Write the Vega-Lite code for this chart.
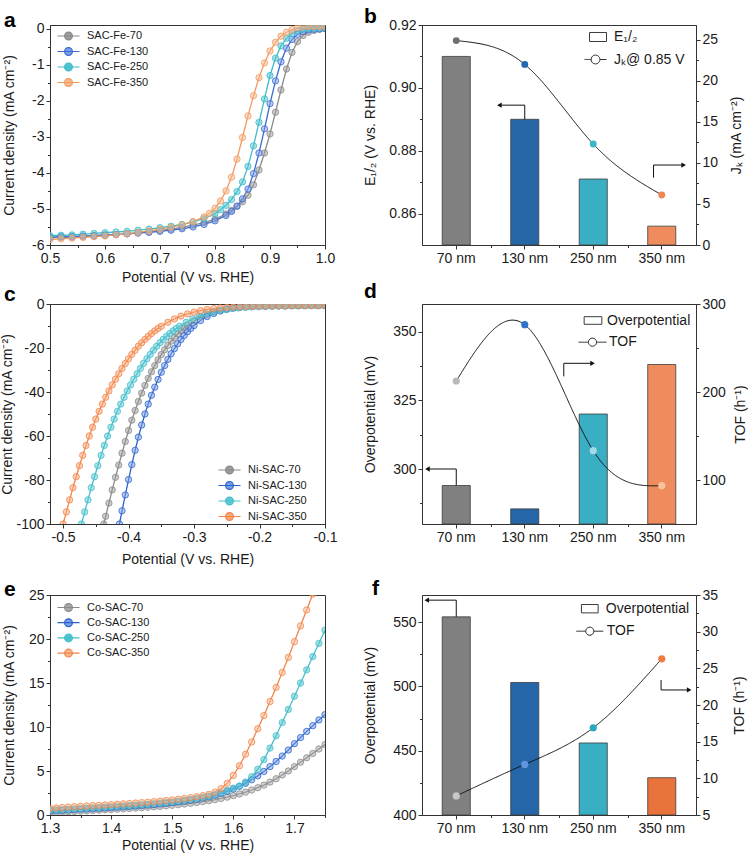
{
"$schema":"https://vega.github.io/schema/vega-lite/v6.json",
"background":"white",
"padding":{"left":0,"top":5,"right":0,"bottom":0},
"config":{"font":"Liberation Sans","view":{"stroke":"#333","strokeWidth":1},
"axis":{"labelFont":"Liberation Sans","titleFont":"Liberation Sans","labelFontSize":14,"titleFontSize":14,"titleFontWeight":"normal","labelColor":"#1a1a1a","titleColor":"#1a1a1a","domainColor":"#333","tickColor":"#333","tickSize":4,"labelPadding":2,"grid":false,"labelFlush":false,"labelOverlap":false},
"legend":{"labelFont":"Liberation Sans","labelColor":"#1a1a1a"},
"title":{"font":"Liberation Sans","color":"#000"}},
"datasets":{
"fe":[
{"s":"SAC-Fe-70","E":0.5,"j":-5.8},{"s":"SAC-Fe-70","E":0.52,"j":-5.79},{"s":"SAC-Fe-70","E":0.54,"j":-5.78},{"s":"SAC-Fe-70","E":0.56,"j":-5.76},{"s":"SAC-Fe-70","E":0.58,"j":-5.75},{"s":"SAC-Fe-70","E":0.6,"j":-5.73},{"s":"SAC-Fe-70","E":0.62,"j":-5.71},{"s":"SAC-Fe-70","E":0.64,"j":-5.69},{"s":"SAC-Fe-70","E":0.66,"j":-5.66},{"s":"SAC-Fe-70","E":0.68,"j":-5.63},{"s":"SAC-Fe-70","E":0.7,"j":-5.6},{"s":"SAC-Fe-70","E":0.72,"j":-5.56},{"s":"SAC-Fe-70","E":0.74,"j":-5.51},{"s":"SAC-Fe-70","E":0.76,"j":-5.45},{"s":"SAC-Fe-70","E":0.78,"j":-5.38},{"s":"SAC-Fe-70","E":0.8,"j":-5.28},{"s":"SAC-Fe-70","E":0.82,"j":-5.14},{"s":"SAC-Fe-70","E":0.83,"j":-5.04},{"s":"SAC-Fe-70","E":0.84,"j":-4.93},{"s":"SAC-Fe-70","E":0.85,"j":-4.8},{"s":"SAC-Fe-70","E":0.86,"j":-4.62},{"s":"SAC-Fe-70","E":0.87,"j":-4.33},{"s":"SAC-Fe-70","E":0.88,"j":-3.92},{"s":"SAC-Fe-70","E":0.89,"j":-3.45},{"s":"SAC-Fe-70","E":0.9,"j":-2.92},{"s":"SAC-Fe-70","E":0.91,"j":-2.32},{"s":"SAC-Fe-70","E":0.92,"j":-1.7},{"s":"SAC-Fe-70","E":0.93,"j":-1.12},{"s":"SAC-Fe-70","E":0.94,"j":-0.66},{"s":"SAC-Fe-70","E":0.95,"j":-0.36},{"s":"SAC-Fe-70","E":0.96,"j":-0.19},{"s":"SAC-Fe-70","E":0.97,"j":-0.1},{"s":"SAC-Fe-70","E":0.98,"j":-0.05},{"s":"SAC-Fe-70","E":0.99,"j":-0.02},{"s":"SAC-Fe-70","E":1.0,"j":0},
{"s":"SAC-Fe-130","E":0.5,"j":-5.78},{"s":"SAC-Fe-130","E":0.52,"j":-5.77},{"s":"SAC-Fe-130","E":0.54,"j":-5.76},{"s":"SAC-Fe-130","E":0.56,"j":-5.75},{"s":"SAC-Fe-130","E":0.58,"j":-5.74},{"s":"SAC-Fe-130","E":0.6,"j":-5.72},{"s":"SAC-Fe-130","E":0.62,"j":-5.71},{"s":"SAC-Fe-130","E":0.64,"j":-5.69},{"s":"SAC-Fe-130","E":0.66,"j":-5.67},{"s":"SAC-Fe-130","E":0.68,"j":-5.65},{"s":"SAC-Fe-130","E":0.7,"j":-5.62},{"s":"SAC-Fe-130","E":0.72,"j":-5.59},{"s":"SAC-Fe-130","E":0.74,"j":-5.55},{"s":"SAC-Fe-130","E":0.76,"j":-5.5},{"s":"SAC-Fe-130","E":0.78,"j":-5.43},{"s":"SAC-Fe-130","E":0.8,"j":-5.33},{"s":"SAC-Fe-130","E":0.82,"j":-5.18},{"s":"SAC-Fe-130","E":0.83,"j":-5.07},{"s":"SAC-Fe-130","E":0.84,"j":-4.92},{"s":"SAC-Fe-130","E":0.85,"j":-4.72},{"s":"SAC-Fe-130","E":0.86,"j":-4.45},{"s":"SAC-Fe-130","E":0.87,"j":-4.02},{"s":"SAC-Fe-130","E":0.88,"j":-3.45},{"s":"SAC-Fe-130","E":0.89,"j":-2.78},{"s":"SAC-Fe-130","E":0.9,"j":-2.08},{"s":"SAC-Fe-130","E":0.91,"j":-1.45},{"s":"SAC-Fe-130","E":0.92,"j":-0.92},{"s":"SAC-Fe-130","E":0.93,"j":-0.54},{"s":"SAC-Fe-130","E":0.94,"j":-0.3},{"s":"SAC-Fe-130","E":0.95,"j":-0.16},{"s":"SAC-Fe-130","E":0.96,"j":-0.08},{"s":"SAC-Fe-130","E":0.97,"j":-0.04},{"s":"SAC-Fe-130","E":0.98,"j":-0.02},{"s":"SAC-Fe-130","E":0.99,"j":-0.01},{"s":"SAC-Fe-130","E":1.0,"j":0},
{"s":"SAC-Fe-250","E":0.5,"j":-5.74},{"s":"SAC-Fe-250","E":0.52,"j":-5.73},{"s":"SAC-Fe-250","E":0.54,"j":-5.72},{"s":"SAC-Fe-250","E":0.56,"j":-5.7},{"s":"SAC-Fe-250","E":0.58,"j":-5.68},{"s":"SAC-Fe-250","E":0.6,"j":-5.66},{"s":"SAC-Fe-250","E":0.62,"j":-5.64},{"s":"SAC-Fe-250","E":0.64,"j":-5.62},{"s":"SAC-Fe-250","E":0.66,"j":-5.59},{"s":"SAC-Fe-250","E":0.68,"j":-5.56},{"s":"SAC-Fe-250","E":0.7,"j":-5.52},{"s":"SAC-Fe-250","E":0.72,"j":-5.48},{"s":"SAC-Fe-250","E":0.74,"j":-5.43},{"s":"SAC-Fe-250","E":0.76,"j":-5.36},{"s":"SAC-Fe-250","E":0.78,"j":-5.27},{"s":"SAC-Fe-250","E":0.8,"j":-5.13},{"s":"SAC-Fe-250","E":0.81,"j":-5.02},{"s":"SAC-Fe-250","E":0.82,"j":-4.9},{"s":"SAC-Fe-250","E":0.83,"j":-4.74},{"s":"SAC-Fe-250","E":0.84,"j":-4.52},{"s":"SAC-Fe-250","E":0.85,"j":-4.25},{"s":"SAC-Fe-250","E":0.86,"j":-3.82},{"s":"SAC-Fe-250","E":0.87,"j":-3.25},{"s":"SAC-Fe-250","E":0.88,"j":-2.6},{"s":"SAC-Fe-250","E":0.89,"j":-1.95},{"s":"SAC-Fe-250","E":0.9,"j":-1.3},{"s":"SAC-Fe-250","E":0.91,"j":-0.82},{"s":"SAC-Fe-250","E":0.92,"j":-0.48},{"s":"SAC-Fe-250","E":0.93,"j":-0.27},{"s":"SAC-Fe-250","E":0.94,"j":-0.14},{"s":"SAC-Fe-250","E":0.95,"j":-0.06},{"s":"SAC-Fe-250","E":0.96,"j":-0.02},{"s":"SAC-Fe-250","E":0.97,"j":0},{"s":"SAC-Fe-250","E":0.98,"j":0.01},{"s":"SAC-Fe-250","E":0.99,"j":0.02},{"s":"SAC-Fe-250","E":1.0,"j":0.02},
{"s":"SAC-Fe-350","E":0.5,"j":-5.85},{"s":"SAC-Fe-350","E":0.52,"j":-5.83},{"s":"SAC-Fe-350","E":0.54,"j":-5.81},{"s":"SAC-Fe-350","E":0.56,"j":-5.79},{"s":"SAC-Fe-350","E":0.58,"j":-5.77},{"s":"SAC-Fe-350","E":0.6,"j":-5.75},{"s":"SAC-Fe-350","E":0.62,"j":-5.72},{"s":"SAC-Fe-350","E":0.64,"j":-5.69},{"s":"SAC-Fe-350","E":0.66,"j":-5.65},{"s":"SAC-Fe-350","E":0.68,"j":-5.61},{"s":"SAC-Fe-350","E":0.7,"j":-5.56},{"s":"SAC-Fe-350","E":0.72,"j":-5.51},{"s":"SAC-Fe-350","E":0.74,"j":-5.44},{"s":"SAC-Fe-350","E":0.76,"j":-5.35},{"s":"SAC-Fe-350","E":0.78,"j":-5.22},{"s":"SAC-Fe-350","E":0.79,"j":-5.12},{"s":"SAC-Fe-350","E":0.8,"j":-4.98},{"s":"SAC-Fe-350","E":0.81,"j":-4.78},{"s":"SAC-Fe-350","E":0.82,"j":-4.5},{"s":"SAC-Fe-350","E":0.83,"j":-4.12},{"s":"SAC-Fe-350","E":0.84,"j":-3.62},{"s":"SAC-Fe-350","E":0.85,"j":-3.02},{"s":"SAC-Fe-350","E":0.86,"j":-2.42},{"s":"SAC-Fe-350","E":0.87,"j":-1.86},{"s":"SAC-Fe-350","E":0.88,"j":-1.36},{"s":"SAC-Fe-350","E":0.89,"j":-0.95},{"s":"SAC-Fe-350","E":0.9,"j":-0.62},{"s":"SAC-Fe-350","E":0.91,"j":-0.38},{"s":"SAC-Fe-350","E":0.92,"j":-0.21},{"s":"SAC-Fe-350","E":0.93,"j":-0.1},{"s":"SAC-Fe-350","E":0.94,"j":-0.03},{"s":"SAC-Fe-350","E":0.95,"j":0.02},{"s":"SAC-Fe-350","E":0.96,"j":0.05},{"s":"SAC-Fe-350","E":0.97,"j":0.06},{"s":"SAC-Fe-350","E":0.98,"j":0.06},{"s":"SAC-Fe-350","E":0.99,"j":0.06},{"s":"SAC-Fe-350","E":1.0,"j":0.06}
],
"ni":[
{"s":"Ni-SAC-70","E":-0.438,"j":-100},{"s":"Ni-SAC-70","E":-0.435,"j":-96.5},{"s":"Ni-SAC-70","E":-0.43,"j":-90.5},{"s":"Ni-SAC-70","E":-0.425,"j":-84.5},{"s":"Ni-SAC-70","E":-0.42,"j":-78.8},{"s":"Ni-SAC-70","E":-0.415,"j":-73.2},{"s":"Ni-SAC-70","E":-0.41,"j":-67.8},{"s":"Ni-SAC-70","E":-0.405,"j":-62.5},{"s":"Ni-SAC-70","E":-0.4,"j":-57.5},{"s":"Ni-SAC-70","E":-0.395,"j":-52.8},{"s":"Ni-SAC-70","E":-0.39,"j":-48.4},{"s":"Ni-SAC-70","E":-0.385,"j":-44.3},{"s":"Ni-SAC-70","E":-0.38,"j":-40.5},{"s":"Ni-SAC-70","E":-0.375,"j":-37},{"s":"Ni-SAC-70","E":-0.37,"j":-33.8},{"s":"Ni-SAC-70","E":-0.365,"j":-30.8},{"s":"Ni-SAC-70","E":-0.36,"j":-28},{"s":"Ni-SAC-70","E":-0.355,"j":-25.4},{"s":"Ni-SAC-70","E":-0.35,"j":-23},{"s":"Ni-SAC-70","E":-0.345,"j":-20.8},{"s":"Ni-SAC-70","E":-0.34,"j":-18.8},{"s":"Ni-SAC-70","E":-0.335,"j":-16.9},{"s":"Ni-SAC-70","E":-0.33,"j":-15.2},{"s":"Ni-SAC-70","E":-0.325,"j":-13.6},{"s":"Ni-SAC-70","E":-0.32,"j":-12.2},{"s":"Ni-SAC-70","E":-0.315,"j":-10.9},{"s":"Ni-SAC-70","E":-0.31,"j":-9.7},{"s":"Ni-SAC-70","E":-0.3,"j":-7.7},{"s":"Ni-SAC-70","E":-0.29,"j":-6},{"s":"Ni-SAC-70","E":-0.28,"j":-4.7},{"s":"Ni-SAC-70","E":-0.27,"j":-3.6},{"s":"Ni-SAC-70","E":-0.26,"j":-2.8},{"s":"Ni-SAC-70","E":-0.25,"j":-2.2},{"s":"Ni-SAC-70","E":-0.24,"j":-1.75},{"s":"Ni-SAC-70","E":-0.23,"j":-1.45},{"s":"Ni-SAC-70","E":-0.22,"j":-1.2},{"s":"Ni-SAC-70","E":-0.21,"j":-1.05},{"s":"Ni-SAC-70","E":-0.2,"j":-0.95},{"s":"Ni-SAC-70","E":-0.19,"j":-0.9},{"s":"Ni-SAC-70","E":-0.18,"j":-0.85},{"s":"Ni-SAC-70","E":-0.17,"j":-0.8},{"s":"Ni-SAC-70","E":-0.16,"j":-0.8},{"s":"Ni-SAC-70","E":-0.15,"j":-0.75},{"s":"Ni-SAC-70","E":-0.14,"j":-0.75},{"s":"Ni-SAC-70","E":-0.13,"j":-0.7},{"s":"Ni-SAC-70","E":-0.12,"j":-0.7},{"s":"Ni-SAC-70","E":-0.11,"j":-0.7},{"s":"Ni-SAC-70","E":-0.1,"j":-0.7},
{"s":"Ni-SAC-130","E":-0.414,"j":-100},{"s":"Ni-SAC-130","E":-0.41,"j":-94},{"s":"Ni-SAC-130","E":-0.405,"j":-86.8},{"s":"Ni-SAC-130","E":-0.4,"j":-79.8},{"s":"Ni-SAC-130","E":-0.395,"j":-73},{"s":"Ni-SAC-130","E":-0.39,"j":-66.5},{"s":"Ni-SAC-130","E":-0.385,"j":-60.5},{"s":"Ni-SAC-130","E":-0.38,"j":-55},{"s":"Ni-SAC-130","E":-0.375,"j":-50},{"s":"Ni-SAC-130","E":-0.37,"j":-45.5},{"s":"Ni-SAC-130","E":-0.365,"j":-41.5},{"s":"Ni-SAC-130","E":-0.36,"j":-37.8},{"s":"Ni-SAC-130","E":-0.355,"j":-34.3},{"s":"Ni-SAC-130","E":-0.35,"j":-31},{"s":"Ni-SAC-130","E":-0.345,"j":-28},{"s":"Ni-SAC-130","E":-0.34,"j":-25.2},{"s":"Ni-SAC-130","E":-0.335,"j":-22.6},{"s":"Ni-SAC-130","E":-0.33,"j":-20.3},{"s":"Ni-SAC-130","E":-0.325,"j":-18.1},{"s":"Ni-SAC-130","E":-0.32,"j":-16.1},{"s":"Ni-SAC-130","E":-0.315,"j":-14.3},{"s":"Ni-SAC-130","E":-0.31,"j":-12.6},{"s":"Ni-SAC-130","E":-0.305,"j":-11.1},{"s":"Ni-SAC-130","E":-0.3,"j":-9.8},{"s":"Ni-SAC-130","E":-0.29,"j":-7.5},{"s":"Ni-SAC-130","E":-0.28,"j":-5.7},{"s":"Ni-SAC-130","E":-0.27,"j":-4.3},{"s":"Ni-SAC-130","E":-0.26,"j":-3.2},{"s":"Ni-SAC-130","E":-0.25,"j":-2.4},{"s":"Ni-SAC-130","E":-0.24,"j":-1.85},{"s":"Ni-SAC-130","E":-0.23,"j":-1.5},{"s":"Ni-SAC-130","E":-0.22,"j":-1.25},{"s":"Ni-SAC-130","E":-0.21,"j":-1.1},{"s":"Ni-SAC-130","E":-0.2,"j":-1},{"s":"Ni-SAC-130","E":-0.19,"j":-0.9},{"s":"Ni-SAC-130","E":-0.18,"j":-0.85},{"s":"Ni-SAC-130","E":-0.17,"j":-0.8},{"s":"Ni-SAC-130","E":-0.16,"j":-0.8},{"s":"Ni-SAC-130","E":-0.15,"j":-0.75},{"s":"Ni-SAC-130","E":-0.14,"j":-0.75},{"s":"Ni-SAC-130","E":-0.13,"j":-0.7},{"s":"Ni-SAC-130","E":-0.12,"j":-0.7},{"s":"Ni-SAC-130","E":-0.11,"j":-0.7},{"s":"Ni-SAC-130","E":-0.1,"j":-0.7},
{"s":"Ni-SAC-250","E":-0.472,"j":-100},{"s":"Ni-SAC-250","E":-0.467,"j":-94.5},{"s":"Ni-SAC-250","E":-0.462,"j":-89},{"s":"Ni-SAC-250","E":-0.457,"j":-83.5},{"s":"Ni-SAC-250","E":-0.452,"j":-78.5},{"s":"Ni-SAC-250","E":-0.447,"j":-73.5},{"s":"Ni-SAC-250","E":-0.442,"j":-68.8},{"s":"Ni-SAC-250","E":-0.437,"j":-64.3},{"s":"Ni-SAC-250","E":-0.432,"j":-60},{"s":"Ni-SAC-250","E":-0.427,"j":-56},{"s":"Ni-SAC-250","E":-0.422,"j":-52.3},{"s":"Ni-SAC-250","E":-0.417,"j":-48.8},{"s":"Ni-SAC-250","E":-0.412,"j":-45.5},{"s":"Ni-SAC-250","E":-0.407,"j":-42.4},{"s":"Ni-SAC-250","E":-0.402,"j":-39.5},{"s":"Ni-SAC-250","E":-0.397,"j":-36.8},{"s":"Ni-SAC-250","E":-0.392,"j":-34.2},{"s":"Ni-SAC-250","E":-0.387,"j":-31.7},{"s":"Ni-SAC-250","E":-0.382,"j":-29.3},{"s":"Ni-SAC-250","E":-0.377,"j":-27},{"s":"Ni-SAC-250","E":-0.372,"j":-24.9},{"s":"Ni-SAC-250","E":-0.367,"j":-22.9},{"s":"Ni-SAC-250","E":-0.362,"j":-21},{"s":"Ni-SAC-250","E":-0.357,"j":-19.2},{"s":"Ni-SAC-250","E":-0.352,"j":-17.6},{"s":"Ni-SAC-250","E":-0.347,"j":-16.1},{"s":"Ni-SAC-250","E":-0.342,"j":-14.7},{"s":"Ni-SAC-250","E":-0.337,"j":-13.4},{"s":"Ni-SAC-250","E":-0.332,"j":-12.2},{"s":"Ni-SAC-250","E":-0.327,"j":-11.1},{"s":"Ni-SAC-250","E":-0.322,"j":-10.1},{"s":"Ni-SAC-250","E":-0.312,"j":-8.3},{"s":"Ni-SAC-250","E":-0.302,"j":-6.8},{"s":"Ni-SAC-250","E":-0.292,"j":-5.5},{"s":"Ni-SAC-250","E":-0.282,"j":-4.5},{"s":"Ni-SAC-250","E":-0.272,"j":-3.7},{"s":"Ni-SAC-250","E":-0.262,"j":-3},{"s":"Ni-SAC-250","E":-0.252,"j":-2.5},{"s":"Ni-SAC-250","E":-0.242,"j":-2.1},{"s":"Ni-SAC-250","E":-0.232,"j":-1.8},{"s":"Ni-SAC-250","E":-0.222,"j":-1.55},{"s":"Ni-SAC-250","E":-0.212,"j":-1.35},{"s":"Ni-SAC-250","E":-0.202,"j":-1.2},{"s":"Ni-SAC-250","E":-0.192,"j":-1.1},{"s":"Ni-SAC-250","E":-0.182,"j":-1},{"s":"Ni-SAC-250","E":-0.172,"j":-0.95},{"s":"Ni-SAC-250","E":-0.162,"j":-0.9},{"s":"Ni-SAC-250","E":-0.152,"j":-0.85},{"s":"Ni-SAC-250","E":-0.142,"j":-0.8},{"s":"Ni-SAC-250","E":-0.132,"j":-0.8},{"s":"Ni-SAC-250","E":-0.122,"j":-0.75},{"s":"Ni-SAC-250","E":-0.112,"j":-0.75},{"s":"Ni-SAC-250","E":-0.102,"j":-0.7},
{"s":"Ni-SAC-350","E":-0.5,"j":-100},{"s":"Ni-SAC-350","E":-0.495,"j":-94.5},{"s":"Ni-SAC-350","E":-0.49,"j":-89},{"s":"Ni-SAC-350","E":-0.485,"j":-83.5},{"s":"Ni-SAC-350","E":-0.48,"j":-78.5},{"s":"Ni-SAC-350","E":-0.475,"j":-73.5},{"s":"Ni-SAC-350","E":-0.47,"j":-68.8},{"s":"Ni-SAC-350","E":-0.465,"j":-64.3},{"s":"Ni-SAC-350","E":-0.46,"j":-60},{"s":"Ni-SAC-350","E":-0.455,"j":-56},{"s":"Ni-SAC-350","E":-0.45,"j":-52.3},{"s":"Ni-SAC-350","E":-0.445,"j":-48.8},{"s":"Ni-SAC-350","E":-0.44,"j":-45.5},{"s":"Ni-SAC-350","E":-0.435,"j":-42.4},{"s":"Ni-SAC-350","E":-0.43,"j":-39.5},{"s":"Ni-SAC-350","E":-0.425,"j":-36.8},{"s":"Ni-SAC-350","E":-0.42,"j":-34.2},{"s":"Ni-SAC-350","E":-0.415,"j":-31.7},{"s":"Ni-SAC-350","E":-0.41,"j":-29.3},{"s":"Ni-SAC-350","E":-0.405,"j":-27},{"s":"Ni-SAC-350","E":-0.4,"j":-24.9},{"s":"Ni-SAC-350","E":-0.395,"j":-22.9},{"s":"Ni-SAC-350","E":-0.39,"j":-21},{"s":"Ni-SAC-350","E":-0.385,"j":-19.2},{"s":"Ni-SAC-350","E":-0.38,"j":-17.6},{"s":"Ni-SAC-350","E":-0.375,"j":-16.1},{"s":"Ni-SAC-350","E":-0.37,"j":-14.7},{"s":"Ni-SAC-350","E":-0.365,"j":-13.4},{"s":"Ni-SAC-350","E":-0.36,"j":-12.2},{"s":"Ni-SAC-350","E":-0.355,"j":-11.1},{"s":"Ni-SAC-350","E":-0.35,"j":-10.1},{"s":"Ni-SAC-350","E":-0.34,"j":-8.3},{"s":"Ni-SAC-350","E":-0.33,"j":-6.8},{"s":"Ni-SAC-350","E":-0.32,"j":-5.5},{"s":"Ni-SAC-350","E":-0.31,"j":-4.5},{"s":"Ni-SAC-350","E":-0.3,"j":-3.7},{"s":"Ni-SAC-350","E":-0.29,"j":-3},{"s":"Ni-SAC-350","E":-0.28,"j":-2.5},{"s":"Ni-SAC-350","E":-0.27,"j":-2.1},{"s":"Ni-SAC-350","E":-0.26,"j":-1.8},{"s":"Ni-SAC-350","E":-0.25,"j":-1.55},{"s":"Ni-SAC-350","E":-0.24,"j":-1.35},{"s":"Ni-SAC-350","E":-0.23,"j":-1.2},{"s":"Ni-SAC-350","E":-0.22,"j":-1.1},{"s":"Ni-SAC-350","E":-0.21,"j":-1},{"s":"Ni-SAC-350","E":-0.2,"j":-0.95},{"s":"Ni-SAC-350","E":-0.19,"j":-0.9},{"s":"Ni-SAC-350","E":-0.18,"j":-0.85},{"s":"Ni-SAC-350","E":-0.17,"j":-0.8},{"s":"Ni-SAC-350","E":-0.16,"j":-0.8},{"s":"Ni-SAC-350","E":-0.15,"j":-0.75},{"s":"Ni-SAC-350","E":-0.14,"j":-0.75},{"s":"Ni-SAC-350","E":-0.13,"j":-0.7},{"s":"Ni-SAC-350","E":-0.12,"j":-0.7},{"s":"Ni-SAC-350","E":-0.11,"j":-0.7},{"s":"Ni-SAC-350","E":-0.1,"j":-0.7}
],
"co":[
{"s":"Co-SAC-70","E":1.3,"j":0.25},{"s":"Co-SAC-70","E":1.31,"j":0.29},{"s":"Co-SAC-70","E":1.32,"j":0.33},{"s":"Co-SAC-70","E":1.33,"j":0.36},{"s":"Co-SAC-70","E":1.34,"j":0.4},{"s":"Co-SAC-70","E":1.35,"j":0.44},{"s":"Co-SAC-70","E":1.36,"j":0.47},{"s":"Co-SAC-70","E":1.37,"j":0.51},{"s":"Co-SAC-70","E":1.38,"j":0.55},{"s":"Co-SAC-70","E":1.39,"j":0.59},{"s":"Co-SAC-70","E":1.4,"j":0.62},{"s":"Co-SAC-70","E":1.41,"j":0.66},{"s":"Co-SAC-70","E":1.42,"j":0.7},{"s":"Co-SAC-70","E":1.43,"j":0.74},{"s":"Co-SAC-70","E":1.44,"j":0.79},{"s":"Co-SAC-70","E":1.45,"j":0.83},{"s":"Co-SAC-70","E":1.46,"j":0.88},{"s":"Co-SAC-70","E":1.47,"j":0.93},{"s":"Co-SAC-70","E":1.48,"j":0.98},{"s":"Co-SAC-70","E":1.49,"j":1.04},{"s":"Co-SAC-70","E":1.5,"j":1.1},{"s":"Co-SAC-70","E":1.51,"j":1.17},{"s":"Co-SAC-70","E":1.52,"j":1.25},{"s":"Co-SAC-70","E":1.53,"j":1.33},{"s":"Co-SAC-70","E":1.54,"j":1.42},{"s":"Co-SAC-70","E":1.55,"j":1.52},{"s":"Co-SAC-70","E":1.56,"j":1.62},{"s":"Co-SAC-70","E":1.57,"j":1.74},{"s":"Co-SAC-70","E":1.58,"j":1.88},{"s":"Co-SAC-70","E":1.59,"j":2.03},{"s":"Co-SAC-70","E":1.6,"j":2.2},{"s":"Co-SAC-70","E":1.61,"j":2.39},{"s":"Co-SAC-70","E":1.62,"j":2.6},{"s":"Co-SAC-70","E":1.63,"j":2.84},{"s":"Co-SAC-70","E":1.64,"j":3.1},{"s":"Co-SAC-70","E":1.65,"j":3.4},{"s":"Co-SAC-70","E":1.66,"j":3.74},{"s":"Co-SAC-70","E":1.67,"j":4.12},{"s":"Co-SAC-70","E":1.68,"j":4.55},{"s":"Co-SAC-70","E":1.69,"j":5},{"s":"Co-SAC-70","E":1.7,"j":5.5},{"s":"Co-SAC-70","E":1.71,"j":6},{"s":"Co-SAC-70","E":1.72,"j":6.5},{"s":"Co-SAC-70","E":1.73,"j":7},{"s":"Co-SAC-70","E":1.74,"j":7.5},{"s":"Co-SAC-70","E":1.75,"j":8},
{"s":"Co-SAC-130","E":1.3,"j":0.45},{"s":"Co-SAC-130","E":1.31,"j":0.49},{"s":"Co-SAC-130","E":1.32,"j":0.52},{"s":"Co-SAC-130","E":1.33,"j":0.56},{"s":"Co-SAC-130","E":1.34,"j":0.6},{"s":"Co-SAC-130","E":1.35,"j":0.64},{"s":"Co-SAC-130","E":1.36,"j":0.67},{"s":"Co-SAC-130","E":1.37,"j":0.71},{"s":"Co-SAC-130","E":1.38,"j":0.75},{"s":"Co-SAC-130","E":1.39,"j":0.79},{"s":"Co-SAC-130","E":1.4,"j":0.83},{"s":"Co-SAC-130","E":1.41,"j":0.88},{"s":"Co-SAC-130","E":1.42,"j":0.92},{"s":"Co-SAC-130","E":1.43,"j":0.97},{"s":"Co-SAC-130","E":1.44,"j":1.02},{"s":"Co-SAC-130","E":1.45,"j":1.07},{"s":"Co-SAC-130","E":1.46,"j":1.12},{"s":"Co-SAC-130","E":1.47,"j":1.18},{"s":"Co-SAC-130","E":1.48,"j":1.25},{"s":"Co-SAC-130","E":1.49,"j":1.32},{"s":"Co-SAC-130","E":1.5,"j":1.4},{"s":"Co-SAC-130","E":1.51,"j":1.48},{"s":"Co-SAC-130","E":1.52,"j":1.58},{"s":"Co-SAC-130","E":1.53,"j":1.68},{"s":"Co-SAC-130","E":1.54,"j":1.8},{"s":"Co-SAC-130","E":1.55,"j":1.93},{"s":"Co-SAC-130","E":1.56,"j":2.08},{"s":"Co-SAC-130","E":1.57,"j":2.25},{"s":"Co-SAC-130","E":1.58,"j":2.45},{"s":"Co-SAC-130","E":1.59,"j":2.68},{"s":"Co-SAC-130","E":1.6,"j":2.95},{"s":"Co-SAC-130","E":1.61,"j":3.25},{"s":"Co-SAC-130","E":1.62,"j":3.6},{"s":"Co-SAC-130","E":1.63,"j":4},{"s":"Co-SAC-130","E":1.64,"j":4.45},{"s":"Co-SAC-130","E":1.65,"j":4.95},{"s":"Co-SAC-130","E":1.66,"j":5.5},{"s":"Co-SAC-130","E":1.67,"j":6.08},{"s":"Co-SAC-130","E":1.68,"j":6.7},{"s":"Co-SAC-130","E":1.69,"j":7.38},{"s":"Co-SAC-130","E":1.7,"j":8.1},{"s":"Co-SAC-130","E":1.71,"j":8.8},{"s":"Co-SAC-130","E":1.72,"j":9.5},{"s":"Co-SAC-130","E":1.73,"j":10.15},{"s":"Co-SAC-130","E":1.74,"j":10.8},{"s":"Co-SAC-130","E":1.75,"j":11.4},
{"s":"Co-SAC-250","E":1.3,"j":0.55},{"s":"Co-SAC-250","E":1.31,"j":0.59},{"s":"Co-SAC-250","E":1.32,"j":0.62},{"s":"Co-SAC-250","E":1.33,"j":0.66},{"s":"Co-SAC-250","E":1.34,"j":0.7},{"s":"Co-SAC-250","E":1.35,"j":0.74},{"s":"Co-SAC-250","E":1.36,"j":0.78},{"s":"Co-SAC-250","E":1.37,"j":0.82},{"s":"Co-SAC-250","E":1.38,"j":0.86},{"s":"Co-SAC-250","E":1.39,"j":0.9},{"s":"Co-SAC-250","E":1.4,"j":0.94},{"s":"Co-SAC-250","E":1.41,"j":0.99},{"s":"Co-SAC-250","E":1.42,"j":1.03},{"s":"Co-SAC-250","E":1.43,"j":1.08},{"s":"Co-SAC-250","E":1.44,"j":1.13},{"s":"Co-SAC-250","E":1.45,"j":1.18},{"s":"Co-SAC-250","E":1.46,"j":1.23},{"s":"Co-SAC-250","E":1.47,"j":1.29},{"s":"Co-SAC-250","E":1.48,"j":1.36},{"s":"Co-SAC-250","E":1.49,"j":1.43},{"s":"Co-SAC-250","E":1.5,"j":1.5},{"s":"Co-SAC-250","E":1.51,"j":1.58},{"s":"Co-SAC-250","E":1.52,"j":1.67},{"s":"Co-SAC-250","E":1.53,"j":1.77},{"s":"Co-SAC-250","E":1.54,"j":1.88},{"s":"Co-SAC-250","E":1.55,"j":2.01},{"s":"Co-SAC-250","E":1.56,"j":2.16},{"s":"Co-SAC-250","E":1.57,"j":2.34},{"s":"Co-SAC-250","E":1.58,"j":2.55},{"s":"Co-SAC-250","E":1.59,"j":2.8},{"s":"Co-SAC-250","E":1.6,"j":3.05},{"s":"Co-SAC-250","E":1.61,"j":3.3},{"s":"Co-SAC-250","E":1.62,"j":3.75},{"s":"Co-SAC-250","E":1.63,"j":4.35},{"s":"Co-SAC-250","E":1.64,"j":5.2},{"s":"Co-SAC-250","E":1.65,"j":6.3},{"s":"Co-SAC-250","E":1.66,"j":7.6},{"s":"Co-SAC-250","E":1.67,"j":9},{"s":"Co-SAC-250","E":1.68,"j":10.5},{"s":"Co-SAC-250","E":1.69,"j":12},{"s":"Co-SAC-250","E":1.7,"j":13.5},{"s":"Co-SAC-250","E":1.71,"j":15},{"s":"Co-SAC-250","E":1.72,"j":16.5},{"s":"Co-SAC-250","E":1.73,"j":18},{"s":"Co-SAC-250","E":1.74,"j":19.5},{"s":"Co-SAC-250","E":1.75,"j":21},
{"s":"Co-SAC-350","E":1.3,"j":0.75},{"s":"Co-SAC-350","E":1.31,"j":0.8},{"s":"Co-SAC-350","E":1.32,"j":0.85},{"s":"Co-SAC-350","E":1.33,"j":0.9},{"s":"Co-SAC-350","E":1.34,"j":0.95},{"s":"Co-SAC-350","E":1.35,"j":0.99},{"s":"Co-SAC-350","E":1.36,"j":1.03},{"s":"Co-SAC-350","E":1.37,"j":1.07},{"s":"Co-SAC-350","E":1.38,"j":1.1},{"s":"Co-SAC-350","E":1.39,"j":1.14},{"s":"Co-SAC-350","E":1.4,"j":1.18},{"s":"Co-SAC-350","E":1.41,"j":1.22},{"s":"Co-SAC-350","E":1.42,"j":1.27},{"s":"Co-SAC-350","E":1.43,"j":1.31},{"s":"Co-SAC-350","E":1.44,"j":1.36},{"s":"Co-SAC-350","E":1.45,"j":1.41},{"s":"Co-SAC-350","E":1.46,"j":1.46},{"s":"Co-SAC-350","E":1.47,"j":1.52},{"s":"Co-SAC-350","E":1.48,"j":1.58},{"s":"Co-SAC-350","E":1.49,"j":1.65},{"s":"Co-SAC-350","E":1.5,"j":1.72},{"s":"Co-SAC-350","E":1.51,"j":1.8},{"s":"Co-SAC-350","E":1.52,"j":1.88},{"s":"Co-SAC-350","E":1.53,"j":1.97},{"s":"Co-SAC-350","E":1.54,"j":2.08},{"s":"Co-SAC-350","E":1.55,"j":2.2},{"s":"Co-SAC-350","E":1.56,"j":2.35},{"s":"Co-SAC-350","E":1.57,"j":2.6},{"s":"Co-SAC-350","E":1.58,"j":3},{"s":"Co-SAC-350","E":1.59,"j":3.6},{"s":"Co-SAC-350","E":1.6,"j":4.5},{"s":"Co-SAC-350","E":1.61,"j":5.6},{"s":"Co-SAC-350","E":1.62,"j":6.9},{"s":"Co-SAC-350","E":1.63,"j":8.3},{"s":"Co-SAC-350","E":1.64,"j":9.8},{"s":"Co-SAC-350","E":1.65,"j":11.3},{"s":"Co-SAC-350","E":1.66,"j":12.9},{"s":"Co-SAC-350","E":1.67,"j":14.5},{"s":"Co-SAC-350","E":1.68,"j":16.2},{"s":"Co-SAC-350","E":1.69,"j":17.9},{"s":"Co-SAC-350","E":1.7,"j":19.7},{"s":"Co-SAC-350","E":1.71,"j":21.5},{"s":"Co-SAC-350","E":1.72,"j":23.3},{"s":"Co-SAC-350","E":1.73,"j":25.1}
],
"bars":[
{"p":"b","size":"70 nm","v":0.910,"r":24.9},{"p":"b","size":"130 nm","v":0.890,"r":22.0},{"p":"b","size":"250 nm","v":0.871,"r":12.3},{"p":"b","size":"350 nm","v":0.856,"r":6.1},
{"p":"d","size":"70 nm","v":294,"r":212.5},{"p":"d","size":"130 nm","v":285.5,"r":276.5},{"p":"d","size":"250 nm","v":320,"r":133.3},{"p":"d","size":"350 nm","v":338,"r":93.5},
{"p":"f","size":"70 nm","v":554,"r":7.6},{"p":"f","size":"130 nm","v":503,"r":11.9},{"p":"f","size":"250 nm","v":456,"r":16.9},{"p":"f","size":"350 nm","v":429,"r":26.3}
],
"arr":[
{"p":"b","side":"L","x":1.5,"y":0.890,"x2":1.5,"y2":0.8945},{"p":"b","side":"L","x":1.5,"y":0.8945,"x2":1.15,"y2":0.8945},
{"p":"b","side":"R","x":3.38,"y":8.2,"x2":3.38,"y2":9.74},{"p":"b","side":"R","x":3.38,"y":9.74,"x2":3.8,"y2":9.74},
{"p":"d","side":"L","x":0.5,"y":294,"x2":0.5,"y2":300},{"p":"d","side":"L","x":0.5,"y":300,"x2":0.1,"y2":300},
{"p":"d","side":"R","x":2.07,"y":217.8,"x2":2.07,"y2":232.6},{"p":"d","side":"R","x":2.07,"y":232.6,"x2":2.47,"y2":232.6},
{"p":"f","side":"L","x":0.5,"y":554,"x2":0.5,"y2":567},{"p":"f","side":"L","x":0.5,"y":567,"x2":0.09,"y2":567},
{"p":"f","side":"R","x":3.49,"y":23.4,"x2":3.49,"y2":22.05},{"p":"f","side":"R","x":3.49,"y":22.05,"x2":3.88,"y2":22.05}
],
"heads":[
{"p":"b","side":"L","x":1.13,"y":0.8945},{"p":"b","side":"R","x":3.82,"y":9.74},
{"p":"d","side":"L","x":0.08,"y":300},{"p":"d","side":"R","x":2.49,"y":232.6},
{"p":"f","side":"L","x":0.07,"y":567},{"p":"f","side":"R","x":3.9,"y":22.05}
]
},
"spacing":-5,
"resolve":{"scale":{"fill":"independent","stroke":"independent","strokeDash":"independent"}},
"vconcat":[
{"hconcat":[
{"width":275,"height":220,
"title":{"text":"a","anchor":"start","frame":"group","fontSize":21,"fontWeight":"bold","baseline":"alphabetic","offset":0,"dx":-46,"dy":26},
"data":{"name":"fe"},
"layer":[
{"mark":{"type":"line","strokeWidth":1.3,"clip":true},
"encoding":{
"x":{"field":"E","type":"quantitative","scale":{"domain":[0.5,1.0],"nice":false,"zero":false},"axis":{"title":"Potential (V vs. RHE)","values":[0.5,0.6,0.7,0.8,0.9,1.0],"format":".1f","titlePadding":5}},
"y":{"field":"j","type":"quantitative","scale":{"domain":[-6,0.1],"nice":false,"zero":false},"axis":{"title":"Current density (mA cm⁻²)","values":[0,-1,-2,-3,-4,-5,-6],"tickCount":7,"labelOverlap":false,"format":"d","labelExpr":"replace(datum.label,'−','-')","titlePadding":15}},
"stroke":{"field":"s","type":"nominal","scale":{"domain":["SAC-Fe-70","SAC-Fe-130","SAC-Fe-250","SAC-Fe-350"],"range":["#8a8a8a","#3a6ad4","#3fbccb","#f39a5e"]},"legend":{"title":null,"orient":"none","legendX":11,"legendY":3.5,"symbolType":"M-1.7,0H1.7M0.6,0A0.6,0.6,0,1,1,-0.6,0A0.6,0.6,0,1,1,0.6,0","symbolSize":169,"symbolStrokeWidth":1.2,"labelFontSize":11,"labelOffset":11,"rowPadding":1.5,"padding":0}}}},
{"mark":{"type":"point","filled":true,"size":40,"fillOpacity":0.5,"strokeWidth":0.8,"opacity":1,"clip":true},
"encoding":{
"x":{"field":"E","type":"quantitative","axis":null},
"y":{"field":"j","type":"quantitative","axis":null},
"fill":{"field":"s","type":"nominal","scale":{"domain":["SAC-Fe-70","SAC-Fe-130","SAC-Fe-250","SAC-Fe-350"],"range":["#9c9c9c","#7b9ee8","#4fc3d0","#f7b88f"]},"legend":{"title":null,"orient":"none","legendX":11,"legendY":3.5,"symbolType":"M-1.7,0H1.7M0.6,0A0.6,0.6,0,1,1,-0.6,0A0.6,0.6,0,1,1,0.6,0","symbolSize":169,"symbolStrokeWidth":1.2,"labelFontSize":11,"labelOffset":11,"rowPadding":1.5,"padding":0}},
"stroke":{"field":"s","type":"nominal","legend":{"title":null,"orient":"none","legendX":11,"legendY":3.5,"symbolType":"M-1.7,0H1.7M0.6,0A0.6,0.6,0,1,1,-0.6,0A0.6,0.6,0,1,1,0.6,0","symbolSize":169,"symbolStrokeWidth":1.2,"labelFontSize":11,"labelOffset":11,"rowPadding":1.5,"padding":0}}}},
{"mark":{"type":"point","opacity":0},
"encoding":{
"x":{"field":"E","type":"quantitative","axis":{"orient":"bottom","values":[0.55,0.65,0.75,0.85,0.95],"labels":false,"tickSize":2.5,"domain":false,"title":null}},
"y":{"field":"j","type":"quantitative","axis":{"orient":"left","values":[-0.5,-1.5,-2.5,-3.5,-4.5,-5.5],"labels":false,"tickSize":2.5,"domain":false,"title":null}}}}
],
"resolve":{"axis":{"x":"independent","y":"independent"}}},
{"width":274,"height":220,
"title":{"text":"b","anchor":"start","frame":"group","fontSize":21,"fontWeight":"bold","baseline":"alphabetic","offset":0,"dx":-58,"dy":26},
"layer":[
{"data":{"name":"bars"},"transform":[{"filter":"datum.p==='b'"}],"mark":{"type":"bar","strokeWidth":0.8},
"encoding":{
"x":{"field":"size","type":"nominal","scale":{"type":"band","domain":["70 nm","130 nm","250 nm","350 nm"],"paddingInner":0.59,"paddingOuter":0.295},"axis":{"title":null,"labelAngle":0}},
"y":{"field":"v","type":"quantitative","scale":{"domain":[0.85,0.92],"nice":false,"zero":false},"axis":{"title":"E₁/₂ (V vs. RHE)","values":[0.86,0.88,0.9,0.92],"format":".2f","titlePadding":11}},
"y2":{"datum":0.85},
"fill":{"field":"size","type":"nominal","scale":{"domain":["70 nm","130 nm","250 nm","350 nm"],"range":["#808080","#2767a6","#3aafc4","#ee8c5d"]},"legend":null},
"stroke":{"datum":"E₁/₂","type":"nominal","scale":{"range":["#3c3c3c"]},"legend":{"title":null,"orient":"none","legendX":167,"legendY":3,"symbolType":"M-1,-0.53H1V0.53H-1Z","symbolSize":289,"labelFontSize":14,"labelOffset":7,"padding":0,"symbolStrokeWidth":1,"symbolFillColor":"white","symbolStrokeColor":"#333"}}}},
{"data":{"name":"bars"},"transform":[{"filter":"datum.p==='b'"}],"mark":{"type":"line","interpolate":"natural","color":"#111","strokeWidth":1},
"encoding":{
"x":{"field":"size","type":"nominal","scale":{"type":"band","domain":["70 nm","130 nm","250 nm","350 nm"],"paddingInner":0.59,"paddingOuter":0.295},"axis":null},
"y":{"field":"r","type":"quantitative","scale":{"domain":[0,26.8],"nice":false,"zero":false},"axis":{"orient":"right","title":"Jₖ (mA cm⁻²)","values":[0,5,10,15,20,25],"titlePadding":12,"titleAngle":270,"titleBaseline":"top"}},
"strokeDash":{"datum":"Jₖ@ 0.85 V","type":"nominal","scale":{"range":[[1,0]]},"legend":{"title":null,"orient":"none","legendX":162,"legendY":23,"symbolType":"M-1,0H-0.4M0.4,0H1M0.4,0A0.4,0.4,0,1,1,-0.4,0A0.4,0.4,0,1,1,0.4,0","symbolSize":484,"labelFontSize":14,"labelOffset":7,"padding":0,"symbolStrokeWidth":1,"symbolFillColor":"white","symbolStrokeColor":"#222","encode":{"symbols":{"update":{"fill":{"value":"white"},"stroke":{"value":"#222"}}}}}}}},
{"data":{"name":"bars"},"transform":[{"filter":"datum.p==='b'"}],"mark":{"type":"circle","size":48,"opacity":1},
"encoding":{
"x":{"field":"size","type":"nominal","scale":{"type":"band","domain":["70 nm","130 nm","250 nm","350 nm"],"paddingInner":0.59,"paddingOuter":0.295},"axis":null},
"y":{"field":"r","type":"quantitative","scale":{"domain":[0,26.8],"nice":false,"zero":false},"axis":null},
"fill":{"field":"size","type":"nominal","scale":{"domain":["70 nm","130 nm","250 nm","350 nm"],"range":["#6f6f6f","#2566b0","#3fb5c8","#f08552"]},"legend":null}}},
{"data":{"name":"arr"},"transform":[{"filter":"datum.p==='b' && datum.side==='L'"}],"mark":{"type":"rule","color":"#111","strokeWidth":1},
"encoding":{"x":{"field":"x","type":"quantitative","scale":{"domain":[0,4],"nice":false,"zero":false},"axis":{"orient":"bottom","values":[1,2,3],"labels":false,"tickSize":2.5,"domain":false,"title":null}},"x2":{"field":"x2"},"y":{"field":"y","type":"quantitative","scale":{"domain":[0.85,0.92],"nice":false,"zero":false},"axis":{"orient":"left","values":[0.87,0.89,0.91],"labels":false,"tickSize":2.5,"domain":false,"title":null}},"y2":{"field":"y2"}}},
{"data":{"name":"arr"},"transform":[{"filter":"datum.p==='b' && datum.side==='R'"}],"mark":{"type":"rule","color":"#111","strokeWidth":1},
"encoding":{"x":{"field":"x","type":"quantitative","scale":{"domain":[0,4],"nice":false,"zero":false},"axis":null},"x2":{"field":"x2"},"y":{"field":"y","type":"quantitative","scale":{"domain":[0,26.8],"nice":false,"zero":false},"axis":{"orient":"right","values":[2.5,7.5,12.5,17.5,22.5],"labels":false,"tickSize":2.5,"domain":false,"title":null}},"y2":{"field":"y2"}}},
{"data":{"name":"heads"},"transform":[{"filter":"datum.p==='b' && datum.side==='L'"}],"mark":{"type":"point","shape":"triangle-left","filled":true,"size":28,"color":"#111","opacity":1},
"encoding":{"x":{"field":"x","type":"quantitative","scale":{"domain":[0,4],"nice":false,"zero":false},"axis":null},"y":{"field":"y","type":"quantitative","scale":{"domain":[0.85,0.92],"nice":false,"zero":false},"axis":null}}},
{"data":{"name":"heads"},"transform":[{"filter":"datum.p==='b' && datum.side==='R'"}],"mark":{"type":"point","shape":"triangle-right","filled":true,"size":28,"color":"#111","opacity":1},
"encoding":{"x":{"field":"x","type":"quantitative","scale":{"domain":[0,4],"nice":false,"zero":false},"axis":null},"y":{"field":"y","type":"quantitative","scale":{"domain":[0,26.8],"nice":false,"zero":false},"axis":null}}}
],
"resolve":{"scale":{"x":"independent","y":"independent","fill":"independent","stroke":"independent","strokeDash":"independent"}}}
],"spacing":97,"bounds":"flush","resolve":{"scale":{"fill":"independent","stroke":"independent","strokeDash":"independent"}}},
{"spacing":10,
"resolve":{"scale":{"fill":"independent","stroke":"independent","strokeDash":"independent"}},
"vconcat":[
{"hconcat":[
{"width":275,"height":220,
"title":{"text":"c","anchor":"start","frame":"group","fontSize":21,"fontWeight":"bold","baseline":"alphabetic","offset":0,"dx":-46,"dy":25},
"data":{"name":"ni"},
"layer":[
{"mark":{"type":"line","strokeWidth":1.3,"clip":true},
"encoding":{
"x":{"field":"E","type":"quantitative","scale":{"domain":[-0.52,-0.1],"nice":false,"zero":false},"axis":{"title":"Potential (V vs. RHE)","values":[-0.5,-0.4,-0.3,-0.2,-0.1],"format":".1f","labelExpr":"replace(datum.label,'−','-')","titlePadding":8}},
"y":{"field":"j","type":"quantitative","scale":{"domain":[-100,0],"nice":false,"zero":false},"axis":{"title":"Current density (mA cm⁻²)","values":[0,-20,-40,-60,-80,-100],"format":"d","labelExpr":"replace(datum.label,'−','-')","titlePadding":1}},
"stroke":{"field":"s","type":"nominal","scale":{"domain":["Ni-SAC-70","Ni-SAC-130","Ni-SAC-250","Ni-SAC-350"],"range":["#8a8a8a","#2a63c9","#45bfcc","#f2844a"]},"legend":{"title":null,"orient":"none","legendX":172,"legendY":158.5,"symbolType":"M-1.7,0H1.7M0.6,0A0.6,0.6,0,1,1,-0.6,0A0.6,0.6,0,1,1,0.6,0","symbolSize":169,"symbolStrokeWidth":1.2,"labelFontSize":11,"labelOffset":11,"rowPadding":1.5,"padding":0}}}},
{"mark":{"type":"point","filled":true,"size":40,"fillOpacity":0.5,"strokeWidth":0.8,"opacity":1,"clip":true},
"encoding":{
"x":{"field":"E","type":"quantitative","axis":null},
"y":{"field":"j","type":"quantitative","axis":null},
"fill":{"field":"s","type":"nominal","scale":{"domain":["Ni-SAC-70","Ni-SAC-130","Ni-SAC-250","Ni-SAC-350"],"range":["#9c9c9c","#7b9ee8","#5ec8d4","#f7a877"]},"legend":{"title":null,"orient":"none","legendX":172,"legendY":158.5,"symbolType":"M-1.7,0H1.7M0.6,0A0.6,0.6,0,1,1,-0.6,0A0.6,0.6,0,1,1,0.6,0","symbolSize":169,"symbolStrokeWidth":1.2,"labelFontSize":11,"labelOffset":11,"rowPadding":1.5,"padding":0}},
"stroke":{"field":"s","type":"nominal","legend":{"title":null,"orient":"none","legendX":172,"legendY":158.5,"symbolType":"M-1.7,0H1.7M0.6,0A0.6,0.6,0,1,1,-0.6,0A0.6,0.6,0,1,1,0.6,0","symbolSize":169,"symbolStrokeWidth":1.2,"labelFontSize":11,"labelOffset":11,"rowPadding":1.5,"padding":0}}}},
{"mark":{"type":"point","opacity":0},
"encoding":{
"x":{"field":"E","type":"quantitative","axis":{"orient":"bottom","values":[-0.45,-0.35,-0.25,-0.15],"labels":false,"tickSize":2.5,"domain":false,"title":null}},
"y":{"field":"j","type":"quantitative","axis":{"orient":"left","values":[-10,-30,-50,-70,-90],"labels":false,"tickSize":2.5,"domain":false,"title":null}}}}
],
"resolve":{"axis":{"x":"independent","y":"independent"}}},
{"width":274,"height":220,
"title":{"text":"d","anchor":"start","frame":"group","fontSize":21,"fontWeight":"bold","baseline":"alphabetic","offset":0,"dx":-58,"dy":22},
"layer":[
{"data":{"name":"bars"},"transform":[{"filter":"datum.p==='d'"}],"mark":{"type":"bar","strokeWidth":0.8},
"encoding":{
"x":{"field":"size","type":"nominal","scale":{"type":"band","domain":["70 nm","130 nm","250 nm","350 nm"],"paddingInner":0.59,"paddingOuter":0.295},"axis":{"title":null,"labelAngle":0}},
"y":{"field":"v","type":"quantitative","scale":{"domain":[280,360],"nice":false,"zero":false},"axis":{"title":"Overpotential (mV)","values":[300,325,350],"titlePadding":15}},
"y2":{"datum":280},
"fill":{"field":"size","type":"nominal","scale":{"domain":["70 nm","130 nm","250 nm","350 nm"],"range":["#808080","#2566a8","#3aaec2","#ee8c5e"]},"legend":null},
"stroke":{"datum":"Overpotential","type":"nominal","scale":{"range":["#3c3c3c"]},"legend":{"title":null,"orient":"none","legendX":161.5,"legendY":7,"symbolType":"M-1,-0.43H1V0.43H-1Z","symbolSize":313,"labelFontSize":14,"labelOffset":4.5,"padding":0,"symbolStrokeWidth":1,"symbolFillColor":"white","symbolStrokeColor":"#333"}}}},
{"data":{"name":"bars"},"transform":[{"filter":"datum.p==='d'"}],"mark":{"type":"line","interpolate":"natural","color":"#111","strokeWidth":1},
"encoding":{
"x":{"field":"size","type":"nominal","scale":{"type":"band","domain":["70 nm","130 nm","250 nm","350 nm"],"paddingInner":0.59,"paddingOuter":0.295},"axis":null},
"y":{"field":"r","type":"quantitative","scale":{"domain":[50,300],"nice":false,"zero":false},"axis":{"orient":"right","title":"TOF  (h⁻¹)","values":[100,200,300],"titlePadding":8,"titleAngle":270,"titleBaseline":"top"}},
"strokeDash":{"datum":"TOF","type":"nominal","scale":{"range":[[1,0]]},"legend":{"title":null,"orient":"none","legendX":156,"legendY":23.7,"symbolType":"M-1,0H-0.29M0.29,0H1M0.29,0A0.29,0.29,0,1,1,-0.29,0A0.29,0.29,0,1,1,0.29,0","symbolSize":784,"labelFontSize":14,"labelOffset":2,"padding":0,"symbolStrokeWidth":1,"symbolFillColor":"white","symbolStrokeColor":"#222","encode":{"symbols":{"update":{"fill":{"value":"white"},"stroke":{"value":"#222"}}}}}}}},
{"data":{"name":"bars"},"transform":[{"filter":"datum.p==='d'"}],"mark":{"type":"circle","size":52,"opacity":1},
"encoding":{
"x":{"field":"size","type":"nominal","scale":{"type":"band","domain":["70 nm","130 nm","250 nm","350 nm"],"paddingInner":0.59,"paddingOuter":0.295},"axis":null},
"y":{"field":"r","type":"quantitative","scale":{"domain":[50,300],"nice":false,"zero":false},"axis":null},
"fill":{"field":"size","type":"nominal","scale":{"domain":["70 nm","130 nm","250 nm","350 nm"],"range":["#b8b8b8","#2f74c9","#a3dbe4","#f7c39b"]},"legend":null}}},
{"data":{"name":"arr"},"transform":[{"filter":"datum.p==='d' && datum.side==='L'"}],"mark":{"type":"rule","color":"#111","strokeWidth":1},
"encoding":{"x":{"field":"x","type":"quantitative","scale":{"domain":[0,4],"nice":false,"zero":false},"axis":{"orient":"bottom","values":[1,2,3],"labels":false,"tickSize":2.5,"domain":false,"title":null}},"x2":{"field":"x2"},"y":{"field":"y","type":"quantitative","scale":{"domain":[280,360],"nice":false,"zero":false},"axis":{"orient":"left","values":[287.5,312.5,337.5],"labels":false,"tickSize":2.5,"domain":false,"title":null}},"y2":{"field":"y2"}}},
{"data":{"name":"arr"},"transform":[{"filter":"datum.p==='d' && datum.side==='R'"}],"mark":{"type":"rule","color":"#111","strokeWidth":1},
"encoding":{"x":{"field":"x","type":"quantitative","scale":{"domain":[0,4],"nice":false,"zero":false},"axis":null},"x2":{"field":"x2"},"y":{"field":"y","type":"quantitative","scale":{"domain":[50,300],"nice":false,"zero":false},"axis":{"orient":"right","values":[150,250],"labels":false,"tickSize":2.5,"domain":false,"title":null}},"y2":{"field":"y2"}}},
{"data":{"name":"heads"},"transform":[{"filter":"datum.p==='d' && datum.side==='L'"}],"mark":{"type":"point","shape":"triangle-left","filled":true,"size":28,"color":"#111","opacity":1},
"encoding":{"x":{"field":"x","type":"quantitative","scale":{"domain":[0,4],"nice":false,"zero":false},"axis":null},"y":{"field":"y","type":"quantitative","scale":{"domain":[280,360],"nice":false,"zero":false},"axis":null}}},
{"data":{"name":"heads"},"transform":[{"filter":"datum.p==='d' && datum.side==='R'"}],"mark":{"type":"point","shape":"triangle-right","filled":true,"size":28,"color":"#111","opacity":1},
"encoding":{"x":{"field":"x","type":"quantitative","scale":{"domain":[0,4],"nice":false,"zero":false},"axis":null},"y":{"field":"y","type":"quantitative","scale":{"domain":[50,300],"nice":false,"zero":false},"axis":null}}}
],
"resolve":{"scale":{"x":"independent","y":"independent","fill":"independent","stroke":"independent","strokeDash":"independent"}}}
],"spacing":97,"bounds":"flush","resolve":{"scale":{"fill":"independent","stroke":"independent","strokeDash":"independent"}}},
{"hconcat":[
{"width":275,"height":220,
"title":{"text":"e","anchor":"start","frame":"group","fontSize":21,"fontWeight":"bold","baseline":"alphabetic","offset":0,"dx":-46,"dy":29},
"data":{"name":"co"},
"layer":[
{"mark":{"type":"line","strokeWidth":1.3,"clip":true},
"encoding":{
"x":{"field":"E","type":"quantitative","scale":{"domain":[1.3,1.75],"nice":false,"zero":false},"axis":{"title":"Potential (V vs. RHE)","values":[1.3,1.4,1.5,1.6,1.7],"format":".1f","titlePadding":3}},
"y":{"field":"j","type":"quantitative","scale":{"domain":[0,25],"nice":false,"zero":false},"axis":{"title":"Current density (mA cm⁻²)","values":[0,5,10,15,20,25],"format":"d","titlePadding":12}},
"stroke":{"field":"s","type":"nominal","scale":{"domain":["Co-SAC-70","Co-SAC-130","Co-SAC-250","Co-SAC-350"],"range":["#8a8a8a","#2a63c9","#45bfcc","#f2844a"]},"legend":{"title":null,"orient":"none","legendX":11,"legendY":5,"symbolType":"M-1.7,0H1.7M0.6,0A0.6,0.6,0,1,1,-0.6,0A0.6,0.6,0,1,1,0.6,0","symbolSize":169,"symbolStrokeWidth":1.2,"labelFontSize":11,"labelOffset":11,"rowPadding":1.2,"padding":0}}}},
{"mark":{"type":"point","filled":true,"size":40,"fillOpacity":0.5,"strokeWidth":0.8,"opacity":1,"clip":true},
"encoding":{
"x":{"field":"E","type":"quantitative","axis":null},
"y":{"field":"j","type":"quantitative","axis":null},
"fill":{"field":"s","type":"nominal","scale":{"domain":["Co-SAC-70","Co-SAC-130","Co-SAC-250","Co-SAC-350"],"range":["#a8a8a8","#7b9ee8","#4fc3d0","#f7b88f"]},"legend":{"title":null,"orient":"none","legendX":11,"legendY":5,"symbolType":"M-1.7,0H1.7M0.6,0A0.6,0.6,0,1,1,-0.6,0A0.6,0.6,0,1,1,0.6,0","symbolSize":169,"symbolStrokeWidth":1.2,"labelFontSize":11,"labelOffset":11,"rowPadding":1.2,"padding":0}},
"stroke":{"field":"s","type":"nominal","legend":{"title":null,"orient":"none","legendX":11,"legendY":5,"symbolType":"M-1.7,0H1.7M0.6,0A0.6,0.6,0,1,1,-0.6,0A0.6,0.6,0,1,1,0.6,0","symbolSize":169,"symbolStrokeWidth":1.2,"labelFontSize":11,"labelOffset":11,"rowPadding":1.2,"padding":0}}}},
{"mark":{"type":"point","opacity":0},
"encoding":{
"x":{"field":"E","type":"quantitative","axis":{"orient":"bottom","values":[1.35,1.45,1.55,1.65,1.75],"labels":false,"tickSize":2.5,"domain":false,"title":null}},
"y":{"field":"j","type":"quantitative","axis":{"orient":"left","values":[2.5,7.5,12.5,17.5,22.5],"labels":false,"tickSize":2.5,"domain":false,"title":null}}}}
],
"resolve":{"axis":{"x":"independent","y":"independent"}}},
{"width":274,"height":220,
"title":{"text":"f","anchor":"start","frame":"group","fontSize":21,"fontWeight":"bold","baseline":"alphabetic","offset":0,"dx":-50,"dy":28},
"layer":[
{"data":{"name":"bars"},"transform":[{"filter":"datum.p==='f'"}],"mark":{"type":"bar","strokeWidth":0.8},
"encoding":{
"x":{"field":"size","type":"nominal","scale":{"type":"band","domain":["70 nm","130 nm","250 nm","350 nm"],"paddingInner":0.59,"paddingOuter":0.295},"axis":{"title":null,"labelAngle":0}},
"y":{"field":"v","type":"quantitative","scale":{"domain":[400,571],"nice":false,"zero":false},"axis":{"title":"Overpotential (mV)","values":[400,450,500,550],"titlePadding":15}},
"y2":{"datum":400},
"fill":{"field":"size","type":"nominal","scale":{"domain":["70 nm","130 nm","250 nm","350 nm"],"range":["#808080","#2566a8","#3aaec2","#e8733b"]},"legend":null},
"stroke":{"datum":"Overpotential","type":"nominal","scale":{"range":["#3c3c3c"]},"legend":{"title":null,"orient":"none","legendX":158.8,"legendY":4.7,"symbolType":"M-1,-0.5H1V0.5H-1Z","symbolSize":279,"labelFontSize":14,"labelOffset":7,"padding":0,"symbolStrokeWidth":1,"symbolFillColor":"white","symbolStrokeColor":"#333"}}}},
{"data":{"name":"bars"},"transform":[{"filter":"datum.p==='f'"}],"mark":{"type":"line","interpolate":"natural","color":"#111","strokeWidth":1},
"encoding":{
"x":{"field":"size","type":"nominal","scale":{"type":"band","domain":["70 nm","130 nm","250 nm","350 nm"],"paddingInner":0.59,"paddingOuter":0.295},"axis":null},
"y":{"field":"r","type":"quantitative","scale":{"domain":[5,35],"nice":false,"zero":false},"axis":{"orient":"right","title":"TOF  (h⁻¹)","values":[5,10,15,20,25,30,35],"titlePadding":15,"titleAngle":270,"titleBaseline":"top"}},
"strokeDash":{"datum":"TOF","type":"nominal","scale":{"range":[[1,0]]},"legend":{"title":null,"orient":"none","legendX":153.8,"legendY":22.2,"symbolType":"M-1,0H-0.3M0.3,0H1M0.3,0A0.3,0.3,0,1,1,-0.3,0A0.3,0.3,0,1,1,0.3,0","symbolSize":729,"labelFontSize":14,"labelOffset":3,"padding":0,"symbolStrokeWidth":1,"symbolFillColor":"white","symbolStrokeColor":"#222","encode":{"symbols":{"update":{"fill":{"value":"white"},"stroke":{"value":"#222"}}}}}}}},
{"data":{"name":"bars"},"transform":[{"filter":"datum.p==='f'"}],"mark":{"type":"circle","size":52,"opacity":1},
"encoding":{
"x":{"field":"size","type":"nominal","scale":{"type":"band","domain":["70 nm","130 nm","250 nm","350 nm"],"paddingInner":0.59,"paddingOuter":0.295},"axis":null},
"y":{"field":"r","type":"quantitative","scale":{"domain":[5,35],"nice":false,"zero":false},"axis":null},
"fill":{"field":"size","type":"nominal","scale":{"domain":["70 nm","130 nm","250 nm","350 nm"],"range":["#c8c8c8","#5f94de","#2aa8bf","#ef7b44"]},"legend":null}}},
{"data":{"name":"arr"},"transform":[{"filter":"datum.p==='f' && datum.side==='L'"}],"mark":{"type":"rule","color":"#111","strokeWidth":1},
"encoding":{"x":{"field":"x","type":"quantitative","scale":{"domain":[0,4],"nice":false,"zero":false},"axis":{"orient":"bottom","values":[1,2,3],"labels":false,"tickSize":2.5,"domain":false,"title":null}},"x2":{"field":"x2"},"y":{"field":"y","type":"quantitative","scale":{"domain":[400,571],"nice":false,"zero":false},"axis":{"orient":"left","values":[425,475,525],"labels":false,"tickSize":2.5,"domain":false,"title":null}},"y2":{"field":"y2"}}},
{"data":{"name":"arr"},"transform":[{"filter":"datum.p==='f' && datum.side==='R'"}],"mark":{"type":"rule","color":"#111","strokeWidth":1},
"encoding":{"x":{"field":"x","type":"quantitative","scale":{"domain":[0,4],"nice":false,"zero":false},"axis":null},"x2":{"field":"x2"},"y":{"field":"y","type":"quantitative","scale":{"domain":[5,35],"nice":false,"zero":false},"axis":{"orient":"right","values":[7.5,12.5,17.5,22.5,27.5,32.5],"labels":false,"tickSize":2.5,"domain":false,"title":null}},"y2":{"field":"y2"}}},
{"data":{"name":"heads"},"transform":[{"filter":"datum.p==='f' && datum.side==='L'"}],"mark":{"type":"point","shape":"triangle-left","filled":true,"size":28,"color":"#111","opacity":1},
"encoding":{"x":{"field":"x","type":"quantitative","scale":{"domain":[0,4],"nice":false,"zero":false},"axis":null},"y":{"field":"y","type":"quantitative","scale":{"domain":[400,571],"nice":false,"zero":false},"axis":null}}},
{"data":{"name":"heads"},"transform":[{"filter":"datum.p==='f' && datum.side==='R'"}],"mark":{"type":"point","shape":"triangle-right","filled":true,"size":28,"color":"#111","opacity":1},
"encoding":{"x":{"field":"x","type":"quantitative","scale":{"domain":[0,4],"nice":false,"zero":false},"axis":null},"y":{"field":"y","type":"quantitative","scale":{"domain":[5,35],"nice":false,"zero":false},"axis":null}}}
],
"resolve":{"scale":{"x":"independent","y":"independent","fill":"independent","stroke":"independent","strokeDash":"independent"}}}
],"spacing":97,"bounds":"flush","resolve":{"scale":{"fill":"independent","stroke":"independent","strokeDash":"independent"}}}
]}
]
}
